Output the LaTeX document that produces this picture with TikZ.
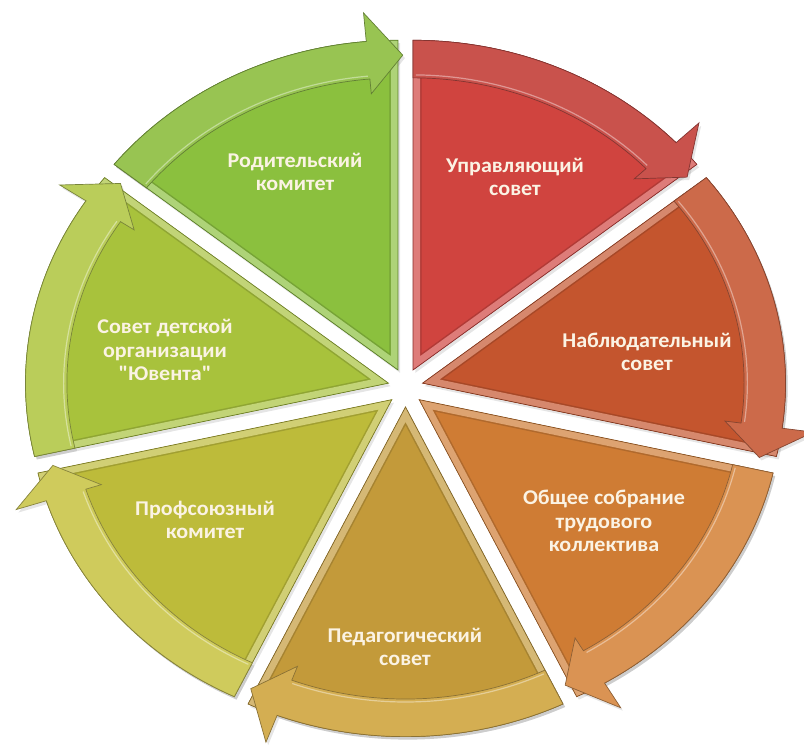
\documentclass[tikz,border=0pt]{standalone}
\usepackage{fontspec}
\setmainfont{Carlito}[Ligatures=TeXOff]
\definecolor{wA}{HTML}{D0443F}\definecolor{bA}{HTML}{C9524C}
\definecolor{wB}{HTML}{C4552E}\definecolor{bB}{HTML}{CC6A4A}
\definecolor{wC}{HTML}{CF7C34}\definecolor{bC}{HTML}{DA9353}
\definecolor{wD}{HTML}{C39A3A}\definecolor{bD}{HTML}{D4AE52}
\definecolor{wE}{HTML}{BDBB3A}\definecolor{bE}{HTML}{CFCB5C}
\definecolor{wF}{HTML}{A8C23C}\definecolor{bF}{HTML}{BACD5A}
\definecolor{wG}{HTML}{8BC03E}\definecolor{bG}{HTML}{98C452}
\definecolor{txt}{HTML}{FBF3E4}
\begin{document}
\begin{tikzpicture}[x=1pt,y=1pt,
  lbl/.style={text=txt, font=\bfseries\fontsize{21}{23.5}\selectfont, align=center, inner sep=0pt, xscale=1.05, transform shape}]
\useasboundingbox (0,0) rectangle (804,745);
\fill[white] (0,0) rectangle (804,745);
\foreach \k/\wc/\bc in {0/wA/bA,1/wB/bB,2/wC/bC,3/wD/bD,4/wE/bE,5/wF/bF,6/wG/bG}{
  \pgfmathsetmacro\aone{90-360*\k/7}
  \pgfmathsetmacro\atwo{\aone-360/7}
  \pgfmathsetmacro\bis{\aone-180/7}
  \pgfmathsetmacro\ah{\atwo+5}
  \pgfmathsetmacro\at{\atwo-0.8}
  \pgfmathsetmacro\sx{405.5+17.5*cos(\bis)}
  \pgfmathsetmacro\sy{357.5+19.5*sin(\bis)}
  \begin{scope}[shift={(\sx,\sy)}, xscale=1.09, yscale=0.99]
    % soft shadow
    \fill[black, opacity=0.10, shift={(2,-3)}]
      (0,0) -- (\aone:333) arc[start angle=\aone, end angle=\atwo, radius=333] -- cycle;
    \fill[black, opacity=0.10, shift={(2,-3)}]
      (\aone:333) arc[start angle=\aone, end angle=\ah, radius=333] -- (\ah:362) -- (\at:318)
      -- (\ah:280) -- (\ah:295) arc[start angle=\ah, end angle=\aone, radius=295] -- cycle;
    % wedge with bevel
    \begin{scope}
      \clip (0,0) -- (\aone:333) arc[start angle=\aone, end angle=\atwo, radius=333] -- cycle;
      \fill[\wc] (0,0) -- (\aone:333) arc[start angle=\aone, end angle=\atwo, radius=333] -- cycle;
      \draw[line width=17, \wc!85!black]
        (0,0) -- (\aone:333) arc[start angle=\aone, end angle=\atwo, radius=333] -- cycle;
      \draw[line width=14, \wc!70!white]
        (0,0) -- (\aone:333) arc[start angle=\aone, end angle=\atwo, radius=333] -- cycle;
    \end{scope}
    \draw[line width=0.7, \wc!65!black]
      (0,0) -- (\aone:333) arc[start angle=\aone, end angle=\atwo, radius=333] -- cycle;
    % arrow band
    \fill[\bc]
      (\aone:333) arc[start angle=\aone, end angle=\ah, radius=333] -- (\ah:362) -- (\at:318)
      -- (\ah:280) -- (\ah:295) arc[start angle=\ah, end angle=\aone, radius=295] -- cycle;
    \draw[line width=1.2, \bc!60!white]
      (\aone-0.5:298) arc[start angle=\aone-0.5, end angle=\ah+0.3, radius=298];
    \draw[line width=0.7, \bc!65!black]
      (\aone:333) arc[start angle=\aone, end angle=\ah, radius=333] -- (\ah:362) -- (\at:318)
      -- (\ah:280) -- (\ah:295) arc[start angle=\ah, end angle=\aone, radius=295] -- cycle;
  \end{scope}
}
\node[lbl] (upr) at (515,568) {Управляющий\\совет};
\node[lbl] (nab) at (647,393) {Наблюдательный\\совет};
\node[lbl] (obs) at (604,224) {Общее собрание\\трудового\\коллектива};
\node[lbl] (ped) at (405,98) {Педагогический\\совет};
\node[lbl] (prof) at (205,225) {Профсоюзный\\комитет};
\node[lbl] (sov) at (165,395) {Совет детской\\организации\\"Ювента"};
\node[lbl] (rod) at (295,573) {Родительский\\комитет};
\end{tikzpicture}
\end{document}
